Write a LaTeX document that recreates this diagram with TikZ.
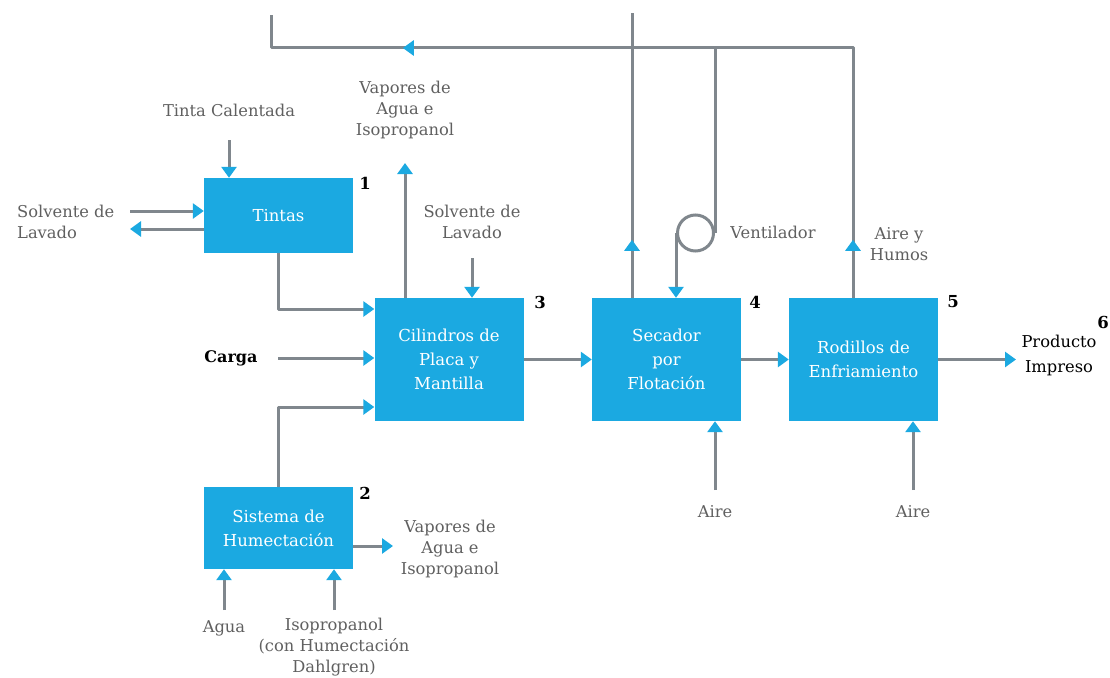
\documentclass[tikz,border=0pt]{standalone}
\usepackage{fontspec}
\setmainfont{DejaVu Serif}
\usetikzlibrary{arrows.meta,decorations.markings}

\definecolor{boxblue}{HTML}{1BA9E1}
\definecolor{linegray}{HTML}{80878D}
\definecolor{txtgray}{HTML}{606060}

\tikzset{
  bluetip/.tip={Triangle[width=15pt,length=11pt,color=boxblue]},
  proc/.style={fill=boxblue, text=white, minimum width=149pt, inner sep=0pt,
    align=center, font=\fontsize{16.5}{24}\selectfont},
  flow/.style={draw=linegray, line width=3pt, line join=round},
  tipped/.style={flow, -{bluetip}},
  lbl/.style={text=txtgray, align=center, inner sep=0pt, font=\fontsize{16.3}{21}\selectfont},
  dark/.style={text=black, align=center, inner sep=0pt, font=\fontsize{16.3}{25}\selectfont},
  num/.style={text=black, inner sep=0pt, font=\bfseries\fontsize{16.5}{20}\selectfont},
  onearrow/.style={postaction={decorate},
    decoration={markings, mark=at position #1 with {\arrow{bluetip}}}},
}

\begin{document}
\begin{tikzpicture}[x=1pt,y=-1pt]
\useasboundingbox (0,0) rectangle (1110,677);
\fill[white] (0,0) rectangle (1110,677);

% process blocks
\node[proc, minimum height=75pt] (tintas) at (278.5,215.5) {Tintas};
\node[proc, minimum height=123pt] (cil) at (449,359.5) {Cilindros de\\Placa y\\Mantilla};
\node[proc, minimum height=123pt] (sec) at (666.5,359.5) {Secador\\por\\Flotación};
\node[proc, minimum height=123pt] (rod) at (863.5,359.5) {Rodillos de\\Enfriamiento};
\node[proc, minimum height=82pt] (sist) at (278.5,528) {Sistema de\\Humectación};

% block numbers
\node[num] (n1) at (365,183) {1};
\node[num] (n2) at (365,493) {2};
\node[num] (n3) at (540,302) {3};
\node[num] (n4) at (755,302) {4};
\node[num] (n5) at (953,302) {5};
\node[num, anchor=east] (n6) at (1109,322) {6};

% stream labels
\node[lbl] (tcal) at (229,110) {Tinta Calentada};
\node[lbl, align=left, anchor=west] (solv1) at (17,222) {Solvente de\\Lavado};
\node[lbl] (vap1) at (405,110) {Vapores de\\Agua e\\Isopropanol};
\node[lbl] (solv2) at (472,222) {Solvente de\\Lavado};
\node[dark, font=\bfseries\fontsize{16}{21}\selectfont] (carga) at (231,358) {Carga};
\node[lbl] (vent) at (773,232) {Ventilador};
\node[lbl] (humos) at (899,244) {Aire y\\Humos};
\node[dark] (prod) at (1059,355) {Producto\\Impreso};
\node[lbl] (aire1) at (715,512) {Aire};
\node[lbl] (aire2) at (913,512) {Aire};
\node[lbl] (vap2) at (450,549) {Vapores de\\Agua e\\Isopropanol};
\node[lbl] (agua) at (224,628) {Agua};
\node[lbl] (iso) at (334,647) {Isopropanol\\(con Humectación\\Dahlgren)};

% free ends of the streams
\coordinate (tcalS) at (229,140);
\coordinate (sIn) at (130,211);
\coordinate (sOut) at (130,229);
\coordinate (bend1) at (278.5,309);
\coordinate (cargaE) at (278,358);
\coordinate (bend2) at (278.5,407);
\coordinate (vapT) at (405,163);
\coordinate (solv2S) at (472,258);
\coordinate (prodW) at (1016,359.5);
\coordinate (aire1N) at (715,490);
\coordinate (aire2N) at (913,490);
\coordinate (vap2W) at (393,546);
\coordinate (aguaN) at (224,610);
\coordinate (isoN) at (334,610);

% feeds and products
\draw[tipped] (tcalS) -- (tcalS |- tintas.north);
\draw[tipped] (sIn) -- (sIn -| tintas.west);
\draw[tipped] (sOut -| tintas.west) -- (sOut);
\draw[tipped] (tintas.south) -- (bend1) -- (bend1 -| cil.west);
\draw[tipped] (cargaE) -- (cargaE -| cil.west);
\draw[tipped] (sist.north) -- (bend2) -- (bend2 -| cil.west);
\draw[tipped] (vapT |- cil.north) -- (vapT);
\draw[tipped] (solv2S) -- (solv2S |- cil.north);
\draw[tipped] (cil.east) -- (sec.west);
\draw[tipped] (sec.east) -- (rod.west);
\draw[tipped] (rod.east) -- (prodW);
\draw[tipped] (aire1N) -- (aire1N |- sec.south);
\draw[tipped] (aire2N) -- (aire2N |- rod.south);
\draw[tipped] (vap2W -| sist.east) -- (vap2W);
\draw[tipped] (aguaN) -- (aguaN |- sist.south);
\draw[tipped] (isoN) -- (isoN |- sist.south);

% exhaust and recirculation ducts
\coordinate (topL) at (271,15);
\coordinate (cornerR) at (853,48);
\coordinate (cornerL) at (271,48);
\coordinate (junc) at (715,48);
\coordinate (stackTop) at (632,13);

\draw[flow, postaction={decorate},
  decoration={markings,
    mark=at position 58pt with {\arrow{bluetip}},
    mark=at position 700pt with {\arrow{bluetip}}}]
  (cornerR |- rod.north) -- (cornerR) -- (cornerL) -- (topL);
\draw[flow, onearrow=58pt] (stackTop |- sec.north) -- (stackTop);

% fan
\node[circle, draw=linegray, line width=3pt, minimum size=36pt, inner sep=0pt,
  anchor=east] (fan) at (715,233) {};
\draw[flow] (junc) -- (fan.east);
\draw[tipped] (fan.west) -- (fan.west |- sec.north);
\end{tikzpicture}
\end{document}
